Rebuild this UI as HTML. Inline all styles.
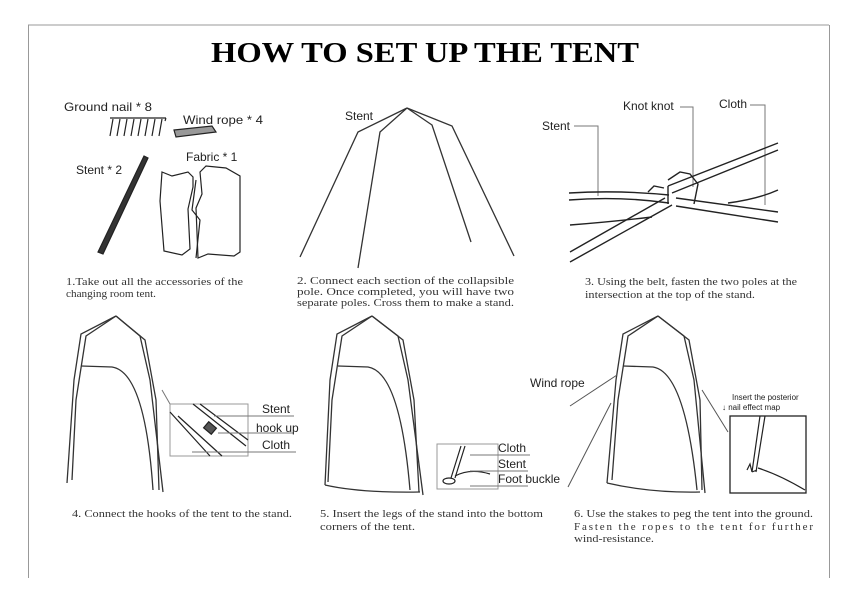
<!DOCTYPE html>
<html><head><meta charset="utf-8"><style>
html,body{margin:0;padding:0;background:#fff;}
svg{display:block}
.s{font-family:"Liberation Sans",sans-serif;font-size:12px;fill:#222}
.c{font-family:"Liberation Serif",serif;font-size:11px;fill:#333}
</style></head><body>
<svg width="850" height="601" viewBox="0 0 850 601" xmlns="http://www.w3.org/2000/svg">
<rect width="850" height="601" fill="#fff"/>
<g stroke="#999" stroke-width="1" fill="none">
<line x1="28" y1="25" x2="829" y2="25"/>
<line x1="28.5" y1="25" x2="28.5" y2="578"/>
<line x1="829.5" y1="25" x2="829.5" y2="578"/>
</g>
<text x="425" y="62" text-anchor="middle" font-family="Liberation Serif,serif" font-weight="bold" font-size="28" fill="#000" textLength="428" lengthAdjust="spacingAndGlyphs">HOW TO SET UP THE TENT</text>

<!-- Panel 1 -->
<text class="s" x="64" y="111" textLength="88" lengthAdjust="spacingAndGlyphs">Ground nail * 8</text>
<text class="s" x="183" y="124" textLength="80" lengthAdjust="spacingAndGlyphs">Wind rope * 4</text>
<text class="s" x="76" y="174">Stent * 2</text>
<text class="s" x="186" y="161">Fabric * 1</text>
<g stroke="#222" stroke-width="1.2" fill="none">
<path d="M110 118h56M113 119l-3 17M120 119l-3 17M127 119l-3 17M134 119l-3 17M141 119l-3 17M148 119l-3 17M155 119l-3 17M162 119l-3 17M166 118l-1 3"/>
<path d="M174 130l38-4 4 6-40 5z" fill="#999"/>
<path d="M144 156l4 2-45 96-5-2z" fill="#333"/>
<path d="M162 172l10 4 16-4 5 5v10l-5 22 2 40-8 6-18-4-4-50z"/>
<path d="M200 172l6-6 20 2 14 8v76l-6 4-26-2-10 4-2-50 6-14z"/>
<path d="M196 180l-4 30 8 10-4 38"/>
</g>
<text class="c" x="66" y="285" textLength="177" lengthAdjust="spacingAndGlyphs">1.Take out all the accessories of the</text>
<text class="c" x="66" y="297" textLength="90" lengthAdjust="spacingAndGlyphs">changing room tent.</text>

<!-- Panel 2 -->
<text class="s" x="345" y="120">Stent</text>
<g stroke="#333" stroke-width="1.3" fill="none">
<path d="M407 108L358 132L300 257"/>
<path d="M407 108L380 132L358 268"/>
<path d="M407 108L432 125L471 242"/>
<path d="M407 108L452 126L514 256"/>
</g>
<text class="c" x="297" y="284" textLength="217" lengthAdjust="spacingAndGlyphs">2. Connect each section of the collapsible</text>
<text class="c" x="297" y="295" textLength="217" lengthAdjust="spacingAndGlyphs">pole. Once completed, you will have two</text>
<text class="c" x="297" y="306" textLength="217" lengthAdjust="spacingAndGlyphs">separate poles. Cross them to make a stand.</text>

<!-- Panel 3 -->
<text class="s" x="542" y="130">Stent</text>
<text class="s" x="623" y="110">Knot knot</text>
<text class="s" x="719" y="108">Cloth</text>
<g stroke="#777" stroke-width="1" fill="none">
<path d="M574 126h24v70M680 107h13v80M750 105h15v100"/>
</g>
<g stroke="#222" stroke-width="1.4" fill="none">
<path d="M569 193q50-3 100 2M569 200q50-4 100 3"/>
<path d="M668 186L778 143M672 193L778 150"/>
<path d="M676 198L778 212M676 206L778 222"/>
<path d="M570 252L665 198M570 262L672 205"/>
<path d="M570 225q40-3 82-8M728 203q30-4 50-13"/>
<path d="M668 180l12-8 10 2 8 10-4 20M648 192l6-6 10 2M668 186v18"/>
</g>
<text class="c" x="585" y="285" textLength="212" lengthAdjust="spacingAndGlyphs">3. Using the belt, fasten the two poles at the</text>
<text class="c" x="585" y="298" textLength="170" lengthAdjust="spacingAndGlyphs">intersection at the top of the stand.</text>

<!-- Tents -->
<g stroke="#333" stroke-width="1.3" fill="none">
<path d="M116 316L81 334L74 380L67 483"/>
<path d="M116 316L86 336L76 400L72 480"/>
<path d="M116 316L140 336L150 380L163 492"/>
<path d="M116 316L145 340L156 400L159 490"/>
<path d="M81 366L112 367Q145 372 153 490"/>
<path d="M372 316L337 334L330 380L325 485"/>
<path d="M372 316L342 336L332 400L328 482"/>
<path d="M372 316L398 336L408 380L423 495"/>
<path d="M372 316L403 340L414 400L419 492"/>
<path d="M338 366L368 367Q400 372 410 490"/>
<path d="M325 485Q360 493 420 492"/>
<path d="M658 316L623 334L616 380L607 483"/>
<path d="M658 316L628 336L618 400L612 480"/>
<path d="M658 316L684 336L694 380L705 493"/>
<path d="M658 316L689 340L700 400L702 490"/>
<path d="M623 366L653 367Q685 372 697 490"/>
<path d="M607 483Q650 493 700 492"/>
</g>
<rect x="170" y="404" width="78" height="52" fill="none" stroke="#999"/>
<g stroke="#222" stroke-width="1.2" fill="none">
<path d="M193 404L246 446M200 404L248 440M170 412L210 456M178 416L222 456"/>
<rect x="205" y="424" width="10" height="8" transform="rotate(40 210 428)" fill="#555"/>
</g>
<g stroke="#777" stroke-width="1"><path d="M214 416H294M218 433H294M192 452H296M162 390L170 404"/></g>
<text class="s" x="262" y="413">Stent</text>
<text class="s" x="256" y="432">hook up</text>
<text class="s" x="262" y="449">Cloth</text>
<text class="c" x="72" y="517" textLength="220" lengthAdjust="spacingAndGlyphs">4. Connect the hooks of the tent to the stand.</text>

<rect x="437" y="444" width="61" height="45" fill="none" stroke="#999"/>
<g stroke="#222" stroke-width="1.2" fill="none">
<path d="M461 446L451 478M465 446L455 478"/>
<ellipse cx="449" cy="481" rx="6" ry="3"/>
<path d="M455 476Q470 468 490 474"/>
</g>
<g stroke="#777" stroke-width="1"><path d="M470 455H530M470 471H528M470 486H528"/></g>
<text class="s" x="498" y="452">Cloth</text>
<text class="s" x="498" y="468">Stent</text>
<text class="s" x="498" y="483">Foot buckle</text>
<text class="c" x="320" y="517" textLength="223" lengthAdjust="spacingAndGlyphs">5. Insert the legs of the stand into the bottom</text>
<text class="c" x="320" y="530" textLength="95" lengthAdjust="spacingAndGlyphs">corners of the tent.</text>

<text class="s" x="530" y="387">Wind rope</text>
<g stroke="#555" stroke-width="1" fill="none">
<path d="M570 406L617 375M568 487L611 403M702 390L728 432"/>
</g>
<text font-family="Liberation Sans,sans-serif" font-size="8" fill="#222" x="732" y="400">Insert the posterior</text>
<text font-family="Liberation Sans,sans-serif" font-size="8" fill="#222" x="722" y="410">↓ nail effect map</text>
<rect x="730" y="416" width="76" height="77" fill="none" stroke="#222" stroke-width="1.3"/>
<g stroke="#222" stroke-width="1.2" fill="none">
<path d="M760 416L752 472M765 416L756 472M747 470l3-6 2 8M752 472l5-2M758 468Q780 475 805 490"/>
</g>
<text class="c" x="574" y="517" textLength="239" lengthAdjust="spacingAndGlyphs">6. Use the stakes to peg the tent into the ground.</text>
<text class="c" x="574" y="530" textLength="239" lengthAdjust="spacing">Fasten the ropes to the tent for further</text>
<text class="c" x="574" y="542" textLength="80" lengthAdjust="spacingAndGlyphs">wind-resistance.</text>
</svg>
</body></html>
